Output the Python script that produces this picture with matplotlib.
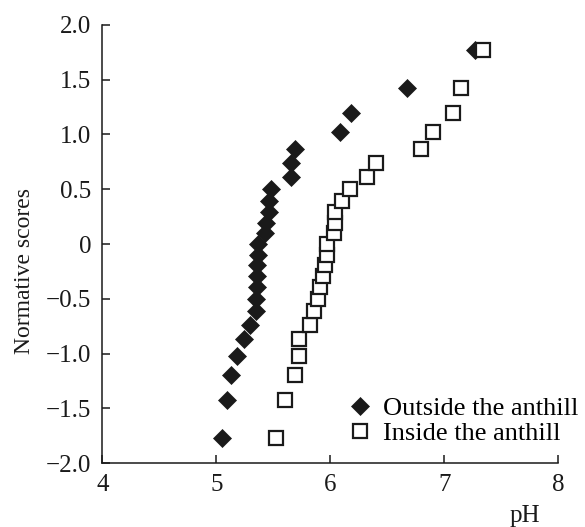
import matplotlib
matplotlib.use('Agg')
import matplotlib.pyplot as plt

plt.rcParams['font.family'] = ['Liberation Serif', 'DejaVu Serif']
plt.rcParams['axes.unicode_minus'] = True

# normative scores (same for both groups, n = 25)
scores = [-1.769, -1.426, -1.198, -1.020, -0.869, -0.736, -0.615, -0.502,
          -0.396, -0.293, -0.194, -0.097, 0.0, 0.097, 0.194, 0.293, 0.396,
          0.502, 0.615, 0.736, 0.869, 1.020, 1.198, 1.426, 1.769]

# pH outside the anthill
ph_outside = [5.05, 5.09, 5.13, 5.18, 5.245, 5.30, 5.35, 5.35, 5.36, 5.36,
              5.36, 5.37, 5.37, 5.43, 5.44, 5.46, 5.46, 5.48, 5.655, 5.655,
              5.69, 6.09, 6.18, 6.67, 7.27]

# pH inside the anthill
ph_inside = [5.52, 5.60, 5.69, 5.73, 5.73, 5.82, 5.855, 5.89, 5.91, 5.94,
             5.955, 5.97, 5.97, 6.03, 6.04, 6.04, 6.10, 6.17, 6.32, 6.40,
             6.80, 6.90, 7.08, 7.15, 7.34]

xticks = [4, 5, 6, 7, 8]
yticks = [-2.0, -1.5, -1.0, -0.5, 0, 0.5, 1.0, 1.5, 2.0]
ytick_labels = ['\u22122.0', '\u22121.5', '\u22121.0', '\u22120.5', '0',
                '0.5', '1.0', '1.5', '2.0']

fig = plt.figure(figsize=(5.85, 5.27), dpi=100)
ax = fig.add_axes([0.175, 0.121, 0.779, 0.832])

ink = '#1a1a1a'
ax.plot(ph_outside, scores, linestyle='none', marker='D', markersize=9,
        color=ink, markeredgewidth=0.5, label='Outside the anthill')
ax.plot(ph_inside, scores, linestyle='none', marker='s', markersize=10,
        markerfacecolor='white', markeredgecolor=ink, markeredgewidth=1.6,
        label='Inside the anthill')

ax.set_xlim(4, 8)
ax.set_ylim(-2, 2)
ax.set_xticks(xticks)
ax.set_yticks(yticks)
ax.set_yticklabels(ytick_labels)

for side in ['top', 'right']:
    ax.spines[side].set_visible(False)
for side in ['left', 'bottom']:
    ax.spines[side].set_linewidth(1.1)
    ax.spines[side].set_color(ink)

ax.tick_params(direction='in', length=6, width=1.1, color=ink,
               labelsize=18, labelcolor=ink, pad=8)

ax.set_ylabel('Normative scores', fontsize=17, color=ink)
ax.yaxis.set_label_coords(-0.148, 0.438)
ax.set_xlabel('pH', fontsize=18, color=ink)
ax.xaxis.set_label_coords(0.927, -0.095)

ax.legend(loc='lower left', bbox_to_anchor=(0.52, 0.018), frameon=False,
          fontsize=19, handlelength=0.8, handletextpad=0.45,
          labelspacing=0.05, borderaxespad=0)

fig.savefig('out.png', dpi=100)
